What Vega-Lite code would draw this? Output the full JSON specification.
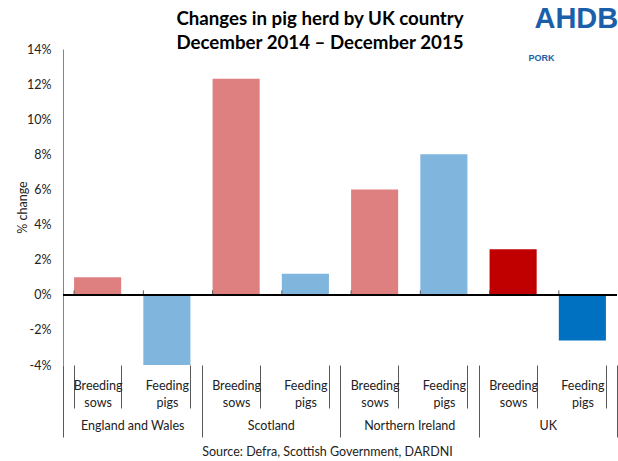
{
  "$schema": "https://vega.github.io/schema/vega-lite/v6.json",
  "width": 554,
  "height": 316,
  "autosize": "none",
  "padding": {"left": 63, "top": 49, "right": 1, "bottom": 96},
  "config": {
    "font": "Lato",
    "view": {"stroke": null},
    "axis": {"labelFont": "Lato", "titleFont": "Lato", "labelColor": "#222222", "titleColor": "#222222"},
    "axisY": {"labelOverlap": false, "labelFlush": false, "ticks": false, "grid": false, "labelPadding": 12, "labelFontSize": 12.5, "domainColor": "#868686", "domainWidth": 1}
  },
  "title": {
    "text": ["Changes in pig herd by UK country", "December 2014 – December 2015"],
    "anchor": "middle",
    "frame": "group",
    "fontSize": 18.7,
    "fontWeight": "bold",
    "font": "Lato",
    "color": "#000000",
    "lineHeight": 24,
    "dx": -20,
    "dy": 48,
    "offset": 0
  },
  "datasets": {
    "bars": [
      {"cat": "England and Wales|Breeding sows", "country": "England and Wales", "type": "Breeding sows", "series": "Breeding sows", "change": 1.0},
      {"cat": "England and Wales|Feeding pigs", "country": "England and Wales", "type": "Feeding pigs", "series": "Feeding pigs", "change": -4.0},
      {"cat": "Scotland|Breeding sows", "country": "Scotland", "type": "Breeding sows", "series": "Breeding sows", "change": 12.3},
      {"cat": "Scotland|Feeding pigs", "country": "Scotland", "type": "Feeding pigs", "series": "Feeding pigs", "change": 1.2},
      {"cat": "Northern Ireland|Breeding sows", "country": "Northern Ireland", "type": "Breeding sows", "series": "Breeding sows", "change": 6.0},
      {"cat": "Northern Ireland|Feeding pigs", "country": "Northern Ireland", "type": "Feeding pigs", "series": "Feeding pigs", "change": 8.0},
      {"cat": "UK|Breeding sows", "country": "UK", "type": "Breeding sows", "series": "UK Breeding sows", "change": 2.6},
      {"cat": "UK|Feeding pigs", "country": "UK", "type": "Feeding pigs", "series": "UK Feeding pigs", "change": -2.6}
    ],
    "logo": [
      {"cat": "UK|Feeding pigs", "brand": "AHDB", "sector": "PORK"}
    ]
  },
  "layer": [
    {
      "data": {"name": "bars"},
      "layer": [
        {
          "mark": {"type": "bar"},
          "encoding": {
            "x": {
              "field": "cat", "type": "nominal", "sort": null,
              "scale": {
                "domain": ["England and Wales|Breeding sows", "England and Wales|Feeding pigs", "Scotland|Breeding sows", "Scotland|Feeding pigs", "Northern Ireland|Breeding sows", "Northern Ireland|Feeding pigs", "UK|Breeding sows", "UK|Feeding pigs"],
                "paddingInner": 0.32, "paddingOuter": 0.16
              },
              "axis": {
                "orient": "bottom", "title": null, "domain": false,
                "tickBand": "extent", "tickSize": 43, "tickColor": "#595959", "tickWidth": 1,
                "labelAngle": 0, "labelFontSize": 12.5, "labelLineHeight": 17,
                "labelBaseline": "top", "labelPadding": -29,
                "labelExpr": "indexof(datum.label, '|') >= 0 ? split(split(datum.label, '|')[1], ' ') : ''"
              }
            },
            "y": {
              "field": "change", "type": "quantitative",
              "scale": {"domain": [-4, 14], "nice": false, "zero": false},
              "axis": {
                "title": "% change", "titleFontSize": 12.5, "titleFontWeight": "normal", "titlePadding": -3,
                "values": [-4, -2, 0, 2, 4, 6, 8, 10, 12, 14],
                "labelExpr": "datum.value + '%'", "labelOverlap": false
              }
            },
            "color": {
              "field": "series", "type": "nominal", "legend": null,
              "scale": {
                "domain": ["Breeding sows", "Feeding pigs", "UK Breeding sows", "UK Feeding pigs"],
                "range": ["#DE807F", "#80B6DE", "#C00000", "#0070C0"]
              }
            }
          }
        },
        {
          "mark": {"type": "rule", "color": "#595959", "strokeWidth": 1},
          "encoding": {
            "x": {"field": "cat", "type": "nominal", "sort": null, "bandPosition": 0},
            "y": {"datum": 0, "type": "quantitative", "axis": {"title": "% change", "titleFontSize": 12.5, "titleFontWeight": "normal", "titlePadding": -3, "values": [-4, -2, 0, 2, 4, 6, 8, 10, 12, 14], "labelExpr": "datum.value + '%'", "labelOverlap": false}},
            "y2": {"datum": 0.25}
          }
        },
        {
          "mark": {"type": "rule", "color": "#000000", "strokeWidth": 1.5},
          "encoding": {"y": {"datum": 0, "type": "quantitative", "axis": {"title": "% change", "titleFontSize": 12.5, "titleFontWeight": "normal", "titlePadding": -3, "values": [-4, -2, 0, 2, 4, 6, 8, 10, 12, 14], "labelExpr": "datum.value + '%'", "labelOverlap": false}}}
        },
        {
          "data": {"name": "logo"},
          "mark": {"type": "text", "font": "Liberation Sans", "fontWeight": "bold", "fontSize": 29, "color": "#1B5FAA", "align": "center", "baseline": "middle", "clip": false, "dx": -6},
          "encoding": {
            "x": {"field": "cat", "type": "nominal", "sort": null},
            "y": {"datum": 15.7, "type": "quantitative", "axis": {"title": "% change", "titleFontSize": 12.5, "titleFontWeight": "normal", "titlePadding": -3, "values": [-4, -2, 0, 2, 4, 6, 8, 10, 12, 14], "labelExpr": "datum.value + '%'", "labelOverlap": false}},
            "text": {"field": "brand"}
          }
        },
        {
          "data": {"name": "logo"},
          "mark": {"type": "text", "font": "Liberation Sans", "fontWeight": "bold", "fontSize": 9, "color": "#1B5FAA", "align": "center", "baseline": "middle", "clip": false, "dx": -41},
          "encoding": {
            "x": {"field": "cat", "type": "nominal", "sort": null},
            "y": {"datum": 13.5, "type": "quantitative", "axis": {"title": "% change", "titleFontSize": 12.5, "titleFontWeight": "normal", "titlePadding": -3, "values": [-4, -2, 0, 2, 4, 6, 8, 10, 12, 14], "labelExpr": "datum.value + '%'", "labelOverlap": false}},
            "text": {"field": "sector"}
          }
        }
      ]
    },
    {
      "data": {"name": "bars"},
      "mark": {"type": "text", "opacity": 0},
      "encoding": {
        "x": {
          "field": "country", "type": "nominal", "sort": null,
          "scale": {"domain": ["England and Wales", "Scotland", "Northern Ireland", "UK"], "paddingInner": 0, "paddingOuter": 0},
          "axis": {
            "orient": "bottom", "domain": false,
            "tickBand": "extent", "tickSize": 72, "tickColor": "#595959", "tickWidth": 1,
            "labelAngle": 0, "labelFontSize": 12.5, "labelBaseline": "top", "labelPadding": -18,
            "title": "Source: Defra, Scottish Government, DARDNI",
            "titleFontSize": 12.5, "titleFontWeight": "normal", "titlePadding": 8, "titleX": 264
          }
        },
        "y": {"field": "change", "type": "quantitative", "axis": {"title": "% change", "titleFontSize": 12.5, "titleFontWeight": "normal", "titlePadding": -3, "values": [-4, -2, 0, 2, 4, 6, 8, 10, 12, 14], "labelExpr": "datum.value + '%'", "labelOverlap": false}},
        "text": {"field": "country"}
      }
    }
  ],
  "resolve": {"scale": {"x": "independent"}, "axis": {"x": "independent"}}
}
